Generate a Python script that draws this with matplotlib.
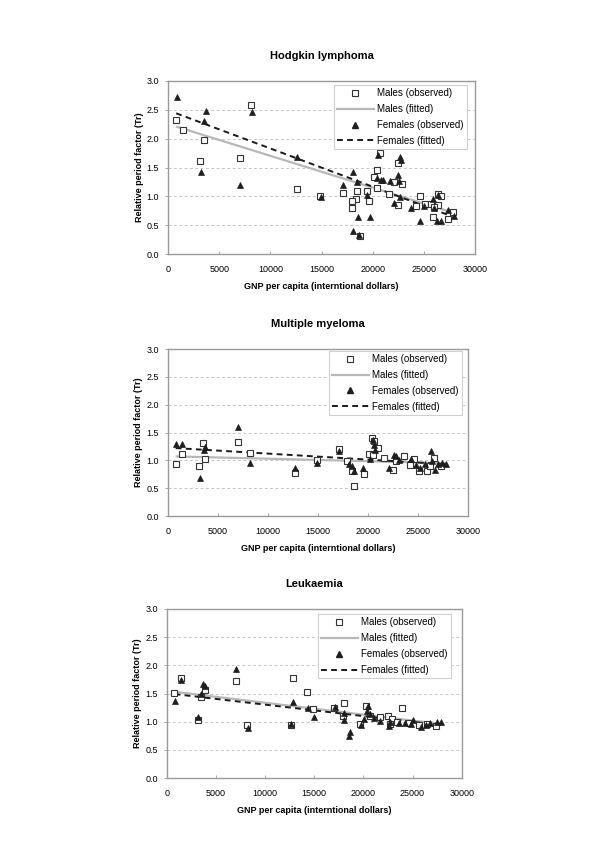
import matplotlib
matplotlib.use("Agg")
import matplotlib.pyplot as plt
from matplotlib.lines import Line2D

plt.rcParams['font.family'] = ['Liberation Sans', 'DejaVu Sans']

# ---------------- Data ----------------
titles = ["Hodgkin lymphoma", "Multiple myeloma", "Leukaemia"]
xlabel = "GNP per capita (interntional dollars)"
ylabel = "Relative period factor (Tr)"
x_ticks = [0, 5000, 10000, 15000, 20000, 25000, 30000]
y_ticks = [0.0, 0.5, 1.0, 1.5, 2.0, 2.5, 3.0]

# Hodgkin lymphoma
hl_m_x = [780, 1440, 3500, 3170, 8140, 7030, 12650, 14900, 20690, 22480, 20420, 20160,
          22090, 22910, 20390, 18500, 19480, 17090, 21600, 18330, 18010, 19640, 17940,
          18760, 24640, 24220, 25100, 25690, 26340, 26670, 26340, 25910, 27320, 27810,
          22520, 26010]
hl_m_y = [2.32, 2.15, 1.98, 1.61, 2.58, 1.66, 1.13, 1.00, 1.745, 1.58, 1.46, 1.34,
          1.25, 1.21, 1.14, 1.09, 1.09, 1.05, 1.04, 0.96, 0.92, 0.92, 0.79,
          0.31, 1.00, 0.83, 0.87, 0.86, 1.04, 1.00, 0.85, 0.65, 0.60, 0.72,
          0.85, 0.81]
hl_f_x = [850, 3760, 3560, 8240, 3240, 7060, 12650, 14930, 20520, 22680, 22810, 18040,
          22520, 20460, 20780, 21050, 21700, 22580, 17130, 18430, 19480, 22650, 22090,
          23730, 25030, 25850, 26010, 26400, 27320, 27910, 26270, 26670, 24640, 18560,
          19740, 18070, 18700]
hl_f_y = [2.72, 2.48, 2.30, 2.47, 1.42, 1.19, 1.69, 0.98, 1.72, 1.68, 1.63, 1.42,
          1.37, 1.32, 1.29, 1.28, 1.27, 1.27, 1.19, 1.24, 1.03, 0.99, 0.88,
          0.79, 0.83, 0.95, 0.79, 1.02, 0.77, 0.66, 0.58, 0.58, 0.58, 0.64,
          0.64, 0.40, 0.33]
hl_fit_x = [800, 27800]
hl_fit_m = [2.21, 0.72]
hl_fit_f = [2.44, 0.65]

# Multiple myeloma
mm_m_x = [800, 1400, 3530, 3170, 3700, 7030, 8190, 12690, 14920, 17120, 20410, 20570,
          20970, 20140, 20510, 17910, 18410, 19580, 18640, 21570, 22470, 22840, 23640,
          24640, 24180, 25070, 25910, 26240, 26570, 27300]
mm_m_y = [0.93, 1.11, 1.32, 0.90, 1.02, 1.33, 1.14, 0.78, 1.01, 1.20, 1.40, 1.34,
          1.23, 1.11, 1.10, 0.99, 0.80, 0.75, 0.54, 1.05, 0.83, 0.99, 1.07,
          1.02, 0.92, 0.81, 0.80, 0.89, 1.04, 0.90]
mm_f_x = [800, 1470, 3760, 3600, 3200, 7060, 8190, 12690, 14950, 17120, 18140, 18410,
          18640, 19470, 20570, 20470, 20740, 20240, 22070, 22570, 22840, 23070, 24310,
          24840, 25170, 25740, 26330, 26400, 26740, 26970, 27410, 27830]
mm_f_y = [1.30, 1.30, 1.24, 1.19, 0.69, 1.59, 0.96, 0.87, 0.96, 1.16, 0.93, 0.89,
          0.80, 0.87, 1.28, 1.37, 1.19, 1.02, 0.86, 1.10, 1.07, 1.01, 1.02,
          0.92, 0.87, 0.93, 1.17, 0.98, 0.83, 0.93, 0.96, 0.93]
mm_fit_x = [800, 27800]
mm_fit_m = [1.07, 0.95]
mm_fit_f = [1.22, 0.93]

# Leukaemia
lk_m_x = [745, 1430, 3900, 3160, 3470, 7030, 8150, 12800, 14270, 12640, 14880, 18000,
          17940, 17050, 23950, 20310, 20720, 19630, 21740, 22490, 22930, 23450, 24630,
          25650, 26500, 27350, 22690]
lk_m_y = [1.51, 1.78, 1.57, 1.03, 1.44, 1.72, 0.94, 1.77, 1.53, 0.94, 1.22, 1.33,
          1.10, 1.25, 1.24, 1.27, 1.10, 0.95, 1.08, 1.10, 1.04, 1.00, 0.98,
          0.94, 0.96, 0.92, 0.96]
lk_f_x = [815, 1430, 3670, 3900, 3470, 3160, 7060, 8220, 12840, 12640, 14330, 14950,
          17090, 18000, 18000, 18510, 18690, 20450, 20390, 20720, 20040, 19710, 21060,
          21670, 22590, 22690, 23610, 24190, 24800, 25080, 25820, 26330, 26770, 27450,
          27860]
lk_f_y = [1.37, 1.74, 1.67, 1.63, 1.50, 1.09, 1.93, 0.89, 1.35, 0.96, 1.25, 1.08,
          1.26, 1.16, 1.03, 0.75, 0.82, 1.28, 1.19, 1.13, 1.04, 0.94, 1.06,
          1.02, 0.92, 1.00, 0.98, 0.97, 0.96, 1.03, 0.91, 0.94, 0.97, 1.00,
          1.00]
lk_fit_x = [800, 27800]
lk_fit_m = [1.53, 0.96]
lk_fit_f = [1.49, 0.94]

panels = [
    (hl_m_x, hl_m_y, hl_f_x, hl_f_y, hl_fit_x, hl_fit_m, hl_fit_f),
    (mm_m_x, mm_m_y, mm_f_x, mm_f_y, mm_fit_x, mm_fit_m, mm_fit_f),
    (lk_m_x, lk_m_y, lk_f_x, lk_f_y, lk_fit_x, lk_fit_m, lk_fit_f),
]

# ---------------- Layout (pixels) ----------------
W, H = 600, 849
axes_px = [  # left, right, top, bottom
    (168, 475, 81, 254),
    (167.7, 468, 349, 516),
    (166.7, 461.7, 609, 778),
]
legend_anchor = [(0.973, 0.977), (0.979, 0.99), (0.963, 0.97)]

fig = plt.figure(figsize=(W / 100, H / 100), dpi=100)
fig.patch.set_facecolor('white')

frame_col = '#9a9a9a'
for i, (l, r, t, b) in enumerate(axes_px):
    ax = fig.add_axes([l / W, (H - b) / H, (r - l) / W, (b - t) / H])
    mx, my, fx, fy, fitx, fitm, fitf = panels[i]

    ax.plot(fitx, fitm, color='#b8b8b8', lw=1.6, zorder=2, solid_capstyle='butt')
    ax.plot(fitx, fitf, color='#1a1a1a', lw=1.4, ls=(0, (3, 2.2)), zorder=3)
    ax.plot(mx, my, ls='none', marker='s', ms=3.7, mfc='white', mec='#333333',
            mew=0.8, zorder=4)
    ax.plot(fx, fy, ls='none', marker='^', ms=5.0, mfc='#1e1e1e', mec='#1e1e1e',
            mew=0.5, zorder=5)

    ax.set_xlim(0, 30000)
    ax.set_ylim(0, 3.0)
    ax.set_xticks(x_ticks)
    ax.set_xticklabels([str(v) for v in x_ticks])
    ax.set_yticks(y_ticks)
    ax.set_yticklabels([f"{v:.1f}" for v in y_ticks])
    ax.tick_params(axis='both', labelsize=6.5, colors='#000000', length=2.5,
                   width=0.6, color=frame_col, pad=4)
    ax.tick_params(axis='x', direction='in', pad=8)
    for s in ax.spines.values():
        s.set_color(frame_col)
        s.set_linewidth(1.0)
    ax.yaxis.grid(True, ls=(0, (3, 2.5)), color='#c8c8c8', lw=0.7)
    ax.set_axisbelow(True)

    ax.set_title(titles[i], fontsize=8, fontweight='bold', pad=16)
    ax.set_xlabel(xlabel, fontsize=6.5, fontweight='bold', labelpad=6)
    ax.set_ylabel(ylabel, fontsize=6.5, fontweight='bold', labelpad=2)

    handles = [
        Line2D([], [], ls='none', marker='s', ms=3.7, mfc='white', mec='#333333', mew=0.8),
        Line2D([], [], color='#b8b8b8', lw=1.6),
        Line2D([], [], ls='none', marker='^', ms=5.0, mfc='#1e1e1e', mec='#1e1e1e'),
        Line2D([], [], color='#1a1a1a', lw=1.4, ls=(0, (3, 2.2))),
    ]
    labels = ["Males (observed)", "Males (fitted)", "Females (observed)", "Females (fitted)"]
    leg = ax.legend(handles, labels, loc='upper right', bbox_to_anchor=legend_anchor[i],
                    borderaxespad=0, fontsize=7, handlelength=3.8, handletextpad=0.3,
                    labelspacing=0.6, borderpad=0.35, fancybox=False, framealpha=1,
                    edgecolor='#d0d0d0')
    leg.get_frame().set_linewidth(0.8)

fig.savefig("out.png", dpi=100, facecolor='white')
